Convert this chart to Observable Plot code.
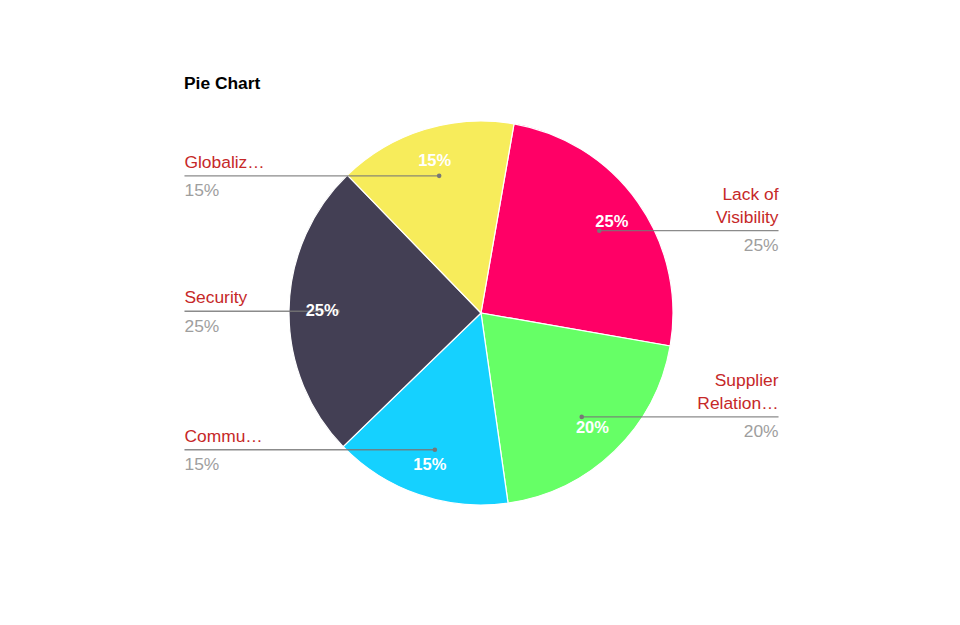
<!DOCTYPE html>
<html><head><meta charset="utf-8">
<script src="https://cdn.jsdelivr.net/npm/d3@7"></script>
<script src="https://cdn.jsdelivr.net/npm/@observablehq/plot@0.6"></script>
<style>
body{margin:0;background:#fff;font-family:"Liberation Sans",Arial,sans-serif}
#wrap{position:relative;width:960px;height:625px}
#title{position:absolute;left:184px;top:73px;font-weight:bold;font-size:17.4px;color:#000}
#chart{position:absolute;left:0;top:0}
</style></head><body>
<div id="wrap"><div id="chart"></div><div id="title">Pie Chart</div></div>
<script>
const categories = ["Lack of Visibility", "Supplier Relationships", "Communication", "Security", "Globalization"];
const displayLabels = ["Lack of\nVisibility", "Supplier\nRelation…", "Commu…", "Security", "Globaliz…"];
const values = [25, 20, 15, 25, 15];
const colors = ["#FF0066", "#66FF66", "#15D1FF", "#433F54", "#F7EC5B"];
const startDeg = 9.9;

const total = d3.sum(values);
const rows = categories.map((c, i) => ({category: c, label: displayLabels[i], value: values[i], color: colors[i]}));
const arcs = d3.pie().sort(null).value(d => d.value)
  .startAngle(startDeg * Math.PI / 180).endAngle(startDeg * Math.PI / 180 + 2 * Math.PI)(rows);

const insideR = 0.83, dotR = 0.75, labelX = 1.547;
const info = arcs.map(a => {
  const m = (a.startAngle + a.endAngle) / 2;
  const right = Math.sin(m) > 0;
  return {
    ...a.data,
    pct: Math.round(a.data.value / total * 100) + "%",
    ix: insideR * Math.sin(m), iy: insideR * Math.cos(m),
    dx: dotR * Math.sin(m), dy: dotR * Math.cos(m),
    lx: right ? labelX : -labelX,
    right
  };
});
const rightInfo = info.filter(d => d.right);
const leftInfo = info.filter(d => !d.right);

const pieMark = (index, scales) => {
  const cx = scales.x(0), cy = scales.y(0);
  const R = scales.x(1) - cx;
  const arc = d3.arc().innerRadius(0).outerRadius(R);
  const g = d3.create("svg:g").attr("transform", `translate(${cx},${cy})`);
  g.selectAll("path").data(arcs).join("path")
    .attr("d", arc).attr("fill", d => d.data.color)
    .attr("stroke", "#fff").attr("stroke-width", 1.2);
  return g.node();
};

const labelMarks = (data, anchor) => [
  Plot.text(data, {x: "lx", y: "dy", text: "label", textAnchor: anchor, lineAnchor: "bottom", dy: -8, fill: "#C62828", fontSize: 17.4, lineHeight: 1.32}),
  Plot.text(data, {x: "lx", y: "dy", text: "pct", textAnchor: anchor, lineAnchor: "top", dy: 8, fill: "#9E9E9E", fontSize: 17.4})
];

const plot = Plot.plot({
  width: 960, height: 625,
  marginLeft: 289, marginRight: 287, marginTop: 121, marginBottom: 120,
  x: {domain: [-1, 1], axis: null},
  y: {domain: [-1, 1], axis: null},
  style: {fontFamily: "'Liberation Sans', Arial, sans-serif", background: "#fff"},
  marks: [
    pieMark,
    Plot.link(info, {x1: "lx", x2: "dx", y1: "dy", y2: "dy", stroke: "#777", strokeOpacity: 0.85, strokeWidth: 1.3}),
    Plot.dot(info, {x: "dx", y: "dy", r: 2.3, fill: "#777"}),
    Plot.text(info, {x: "ix", y: "iy", text: "pct", fill: "white", fontWeight: "bold", fontSize: 16.5}),
    ...labelMarks(rightInfo, "end"),
    ...labelMarks(leftInfo, "start")
  ]
});
document.getElementById("chart").appendChild(plot);
</script>
</body></html>
